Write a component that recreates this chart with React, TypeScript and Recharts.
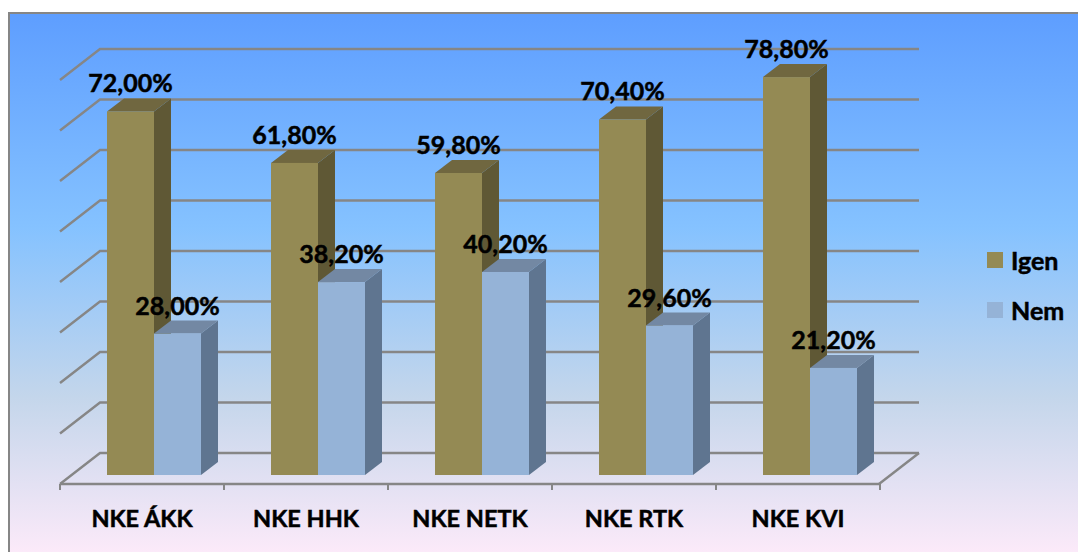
import React from 'react';
import { BarChart, Bar, XAxis, YAxis, CartesianGrid, Legend, LabelList } from 'recharts';

const categories = ['NKE ÁKK', 'NKE HHK', 'NKE NETK', 'NKE RTK', 'NKE KVI'];
const igen = [72.0, 61.8, 59.8, 70.4, 78.8];
const nem = [28.0, 38.2, 40.2, 29.6, 21.2];
const yTicks = [0, 10, 20, 30, 40, 50, 60, 70, 80];
const data = categories.map((name, i) => ({ name, Igen: igen[i], Nem: nem[i] }));

const FONT = 'Lato, Carlito, sans-serif';
const GRID = '#868686';
const WEIGHT = 700;
const HEAVY = 0.5;

const bar3D = (side: string, top: string) => (p: any) => {
  const { x, y, width, height, fill } = p;
  const dx = 17;
  const dy = 13;
  return (
    <g>
      <polygon points={`${x + width},${y} ${x + width + dx},${y - dy} ${x + width + dx},${y + height - dy} ${x + width},${y + height}`} fill={side} />
      <polygon points={`${x},${y} ${x + dx},${y - dy} ${x + width + dx},${y - dy} ${x + width},${y}`} fill={top} />
      <rect x={x} y={y} width={width} height={height} fill={fill} />
    </g>
  );
};

const gridLine = (p: any) => {
  const { x1, x2, y1 } = p;
  const isFloor = Math.abs(y1 - 475) < 1;
  return (
    <g key={p.key ?? y1}>
      <polyline
        points={`${x1 - 11.5},${y1 + 9} ${x1 + 28.5},${y1 - 22} ${x2 + 27.5},${y1 - 22}`}
        fill="none"
        stroke={GRID}
        strokeWidth={2.4}
      />
      {isFloor && (
        <line x1={x2 - 12.5} y1={y1 + 9} x2={x2 + 27.5} y2={y1 - 22} stroke={GRID} strokeWidth={2.4} />
      )}
    </g>
  );
};

const xTick = (p: any) => {
  const { x, y, payload, index } = p;
  const cx = x - 11.5;
  const left = cx - 82;
  const right = cx + 82;
  return (
    <g>
      <line x1={left} y1={y + 9} x2={right} y2={y + 9} stroke={GRID} strokeWidth={2.4} />
      <line x1={left} y1={y + 9} x2={left} y2={y + 15} stroke={GRID} strokeWidth={2} />
      {index === categories.length - 1 && (
        <line x1={right} y1={y + 9} x2={right} y2={y + 15} stroke={GRID} strokeWidth={2} />
      )}
      <text x={cx} y={y + 52} textAnchor="middle" fontFamily={FONT} fontWeight={WEIGHT} fontSize={23.5} fill="#000" stroke="#000" strokeWidth={HEAVY}>
        {payload.value}
      </text>
    </g>
  );
};

const pct = (v: number) => v.toFixed(2).replace('.', ',') + '%';

const valueLabel = (p: any) => {
  const { x, y, width, value } = p;
  return (
    <text x={x + width / 2} y={y - 19} textAnchor="middle" fontFamily={FONT} fontWeight={WEIGHT} fontSize={25} fill="#000" stroke="#000" strokeWidth={HEAVY}>
      {pct(value)}
    </text>
  );
};

const legendContent = (p: any) => (
  <div style={{ fontFamily: FONT, fontWeight: WEIGHT, fontSize: 25, color: '#000', WebkitTextStroke: `${HEAVY}px #000` }}>
    {(p.payload || []).map((e: any) => (
      <div key={e.value} style={{ height: 50, display: 'flex', alignItems: 'center' }}>
        <span style={{ width: 16, height: 16, background: e.color, marginRight: 8, display: 'inline-block' }} />
        <span>{e.value}</span>
      </div>
    ))}
  </div>
);

export default function App() {
  return (
    <div style={{ position: 'fixed', left: 0, top: 0, width: 1078, height: 552, background: '#fff', overflow: 'hidden' }}>
      <div
        style={{
          position: 'absolute',
          left: 8,
          top: 12,
          width: 1080,
          height: 552,
          boxSizing: 'border-box',
          border: '2px solid #868686',
          background: 'linear-gradient(180deg, #5E9EFF 0%, #85C2FF 39%, #C4D6EB 70%, #FFEBFA 100%)',
        }}
      />
      <div style={{ position: 'absolute', left: 0, top: 0 }}>
        <BarChart
          width={1078}
          height={552}
          data={data}
          margin={{ top: 71, right: 95.5, bottom: 47, left: 71.5 }}
          barCategoryGap={35.5}
          barGap={0}
        >
          <CartesianGrid vertical={false} horizontal={gridLine as any} />
          <XAxis dataKey="name" height={30} axisLine={false} tickLine={false} tickSize={0} tickMargin={0} tick={xTick as any} interval={0} />
          <YAxis hide domain={[0, 80]} ticks={yTicks} />
          <Legend
            layout="vertical"
            align="right"
            verticalAlign="middle"
            width={91}
            content={legendContent as any}
            wrapperStyle={{ left: 987, top: 235, right: 'auto' }}
          />
          <Bar dataKey="Igen" fill="#948A54" isAnimationActive={false} shape={bar3D('#5F5835', '#706740') as any}>
            <LabelList dataKey="Igen" content={valueLabel as any} />
          </Bar>
          <Bar dataKey="Nem" fill="#95B3D7" isAnimationActive={false} shape={bar3D('#5F7590', '#7388A3') as any}>
            <LabelList dataKey="Nem" content={valueLabel as any} />
          </Bar>
        </BarChart>
      </div>
    </div>
  );
}
